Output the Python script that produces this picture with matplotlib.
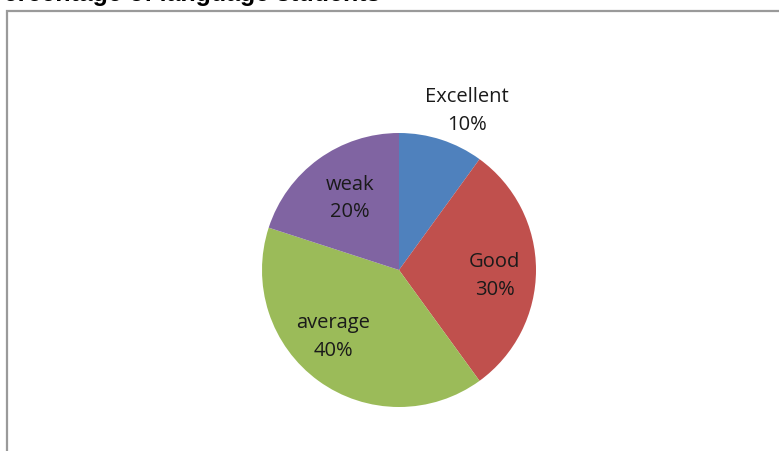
import numpy as np
import matplotlib
matplotlib.use("Agg")
import matplotlib.pyplot as plt
from matplotlib.patches import Rectangle

labels = ["Excellent", "Good", "average", "weak"]
shares = [10, 30, 40, 20]
colors = ["#4F81BD", "#C0504D", "#9BBB59", "#8064A2"]
title = "Percentage of language students"

W, H = 779, 452
fig = plt.figure(figsize=(W / 100, H / 100), dpi=100)
fig.patch.set_facecolor("white")

# chart frame, running off the right and bottom edges
fig.patches.append(Rectangle((6.5 / W, -0.05), 1.0, (H - 11.5) / H + 0.05,
                             transform=fig.transFigure, fill=False,
                             edgecolor="#9a9a9a", lw=1.6))

# title, partly cut off at the top
fig.text(380 / W, 1 - 1 / H, title, ha="right", va="baseline",
         fontsize=18, fontweight="bold", family="Liberation Sans")

cx, cy, r = 399, H - 271, 137
ax = fig.add_axes([(cx - r) / W, (cy - r) / H, 2 * r / W, 2 * r / H])
wedges, _ = ax.pie(shares, colors=colors, startangle=90, counterclock=False,
                   radius=1, wedgeprops=dict(linewidth=0))
ax.set_xlim(-1, 1)
ax.set_ylim(-1, 1)
ax.axis("off")

# label placement: distance from centre and small angle nudge per slice
dist = [1.27, 0.70, 0.68, 0.64]
nudge = [-5, -3, -9, -2]
for w, lab, s, d, n in zip(wedges, labels, shares, dist, nudge):
    ang = np.deg2rad((w.theta1 + w.theta2) / 2 + n)
    ax.text(d * np.cos(ang), d * np.sin(ang), f"{lab}\n{s}%",
            ha="center", va="center", fontsize=14.5, color="#1a1a1a",
            family="Open Sans", linespacing=1.5, clip_on=False)

fig.savefig("out.png", dpi=100)
